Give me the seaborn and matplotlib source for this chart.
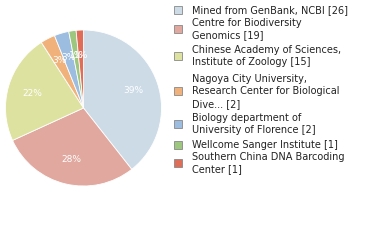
import matplotlib
matplotlib.use("Agg")
import matplotlib.pyplot as plt
import seaborn as sns
from matplotlib.patches import Rectangle

sns.set_theme(style="white")
plt.rcParams['font.family'] = ['DejaVu Sans']

labels = [
    "Mined from GenBank, NCBI [26]",
    "Centre for Biodiversity\nGenomics [19]",
    "Chinese Academy of Sciences,\nInstitute of Zoology [15]",
    "Nagoya City University,\nResearch Center for Biological\nDive... [2]",
    "Biology department of\nUniversity of Florence [2]",
    "Wellcome Sanger Institute [1]",
    "Southern China DNA Barcoding\nCenter [1]",
]
counts = [26, 19, 15, 2, 2, 1, 1]
colors = ["#cddbe7", "#e0a89e", "#dde2a0", "#f0b27a", "#9dbde0", "#9dc67f", "#e06d57"]

W, H = 380, 240
fig = plt.figure(figsize=(W / 100, H / 100), dpi=100)
cx, cy, r = 83.5, 108, 78
ax = fig.add_axes([(cx - r) / W, 1 - (cy + r) / H, 2 * r / W, 2 * r / H])
total = sum(counts)
wedges, texts, autotexts = ax.pie(
    counts, colors=colors, startangle=90, counterclock=False,
    autopct=lambda p: f"{int(p)}%", pctdistance=0.68,
    textprops=dict(color="white", fontsize=6.5),
    wedgeprops=dict(linewidth=0.6, edgecolor="white"),
)
ax.set_aspect("equal")
ax.set_xlim(-1, 1)
ax.set_ylim(-1, 1)

# legend
text_x = 192
sq_x = 174
entry_tops = [10, 23, 50, 79, 118, 145, 157]
line_h = 12.3
for lab, col, top in zip(labels, colors, entry_tops):
    n = lab.count("\n") + 1
    for i, line in enumerate(lab.split("\n")):
        y = top + i * line_h
        fig.text(text_x / W, 1 - y / H, line, fontsize=7, color="#222222",
                 va="center", ha="left")
    mid = top + (n - 1) * line_h / 2
    fig.patches.append(Rectangle((sq_x / W, 1 - (mid + 4) / H), 8 / W, 8 / H,
                                 transform=fig.transFigure, facecolor=col,
                                 edgecolor="#888888", linewidth=0.6))

fig.savefig("out.png", dpi=100)
